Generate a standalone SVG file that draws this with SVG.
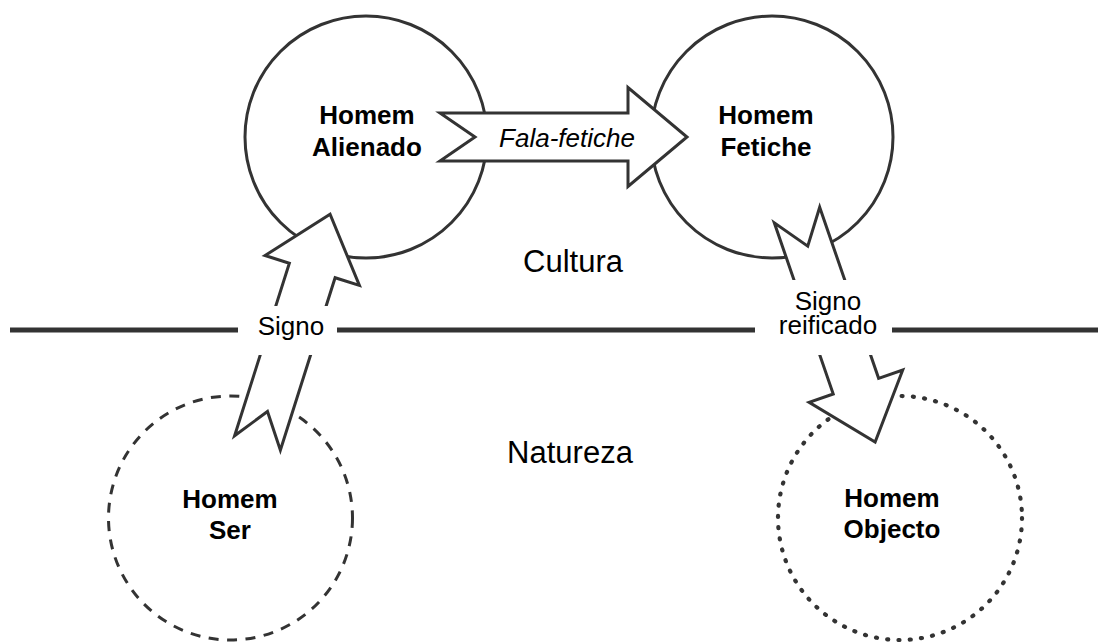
<svg xmlns="http://www.w3.org/2000/svg" width="1108" height="642" viewBox="0 0 1108 642">
  <defs>
    <style>
      .node { fill: #ffffff; stroke: #333333; stroke-width: 3; }
      .dashed { stroke-dasharray: 10 8.5; }
      .dotted { stroke-width: 4.2; stroke-dasharray: 1 10.3; stroke-linecap: round; }
      .arrow { fill: #ffffff; stroke: #333333; stroke-width: 3; stroke-linejoin: miter; }
      .title { font-family: "Liberation Sans", Arial, sans-serif; font-size: 26px; font-weight: bold; fill: #000000; text-anchor: middle; }
      .label { font-family: "Liberation Sans", Arial, sans-serif; font-size: 26px; fill: #000000; text-anchor: middle; }
      .zone { font-family: "Liberation Sans", Arial, sans-serif; font-size: 31px; fill: #000000; text-anchor: middle; }
      .divider { stroke: #333333; stroke-width: 5.2; fill: none; }
    </style>
    <!-- block arrow pointing along +x, tail at origin, 240 long -->
    <polygon id="block-arrow" points="0,-24 181,-24 181,-49.5 240,0 181,49.5 181,24 0,24 33,0"/>
  </defs>

  <rect x="0" y="0" width="1108" height="642" fill="#ffffff"/>

  <!-- nodes -->
  <g id="homem-alienado">
    <circle class="node" cx="366" cy="137" r="121"/>
    <text class="title" x="367" y="124">Homem</text>
    <text class="title" x="367" y="156">Alienado</text>
  </g>
  <g id="homem-fetiche">
    <circle class="node" cx="772" cy="137" r="121"/>
    <text class="title" x="766" y="124">Homem</text>
    <text class="title" x="766" y="156">Fetiche</text>
  </g>
  <g id="homem-ser">
    <circle class="node dashed" cx="230.5" cy="518" r="122"/>
    <text class="title" x="230" y="508">Homem</text>
    <text class="title" x="230" y="539">Ser</text>
  </g>
  <g id="homem-objecto">
    <circle class="node dotted" cx="900" cy="518" r="122"/>
    <text class="title" x="892" y="507">Homem</text>
    <text class="title" x="892" y="538">Objecto</text>
  </g>

  <!-- connectors -->
  <g id="connectors">
    <g id="fala-fetiche">
      <polygon class="arrow" transform="translate(440,137)" points="0,-24 188,-24 188,-49.5 247,0 188,49.5 188,24 0,24 35,0"/>
      <text class="label" x="567" y="147" font-style="italic">Fala-fetiche</text>
    </g>
    <use id="signo" class="arrow" href="#block-arrow" transform="translate(257.5,443) rotate(-72.4)"/>
    <use id="signo-reificado" class="arrow" href="#block-arrow" transform="translate(797,215) rotate(71)"/>
  </g>

  <!-- culture / nature divide -->
  <g id="divide">
    <line class="divider" x1="10" y1="330" x2="1098" y2="330"/>
  </g>

  <!-- connector labels -->
  <g id="connector-labels">
    <rect x="238" y="306" width="99" height="49" fill="#ffffff"/>
    <text class="label" x="291" y="335">Signo</text>
    <rect x="755" y="280" width="137" height="75" fill="#ffffff"/>
    <text class="label" x="828" y="310">Signo</text>
    <text class="label" x="828" y="334">reificado</text>
  </g>

  <!-- zone names -->
  <g id="zones">
    <text class="zone" x="573" y="272">Cultura</text>
    <text class="zone" x="570" y="463">Natureza</text>
  </g>
</svg>
